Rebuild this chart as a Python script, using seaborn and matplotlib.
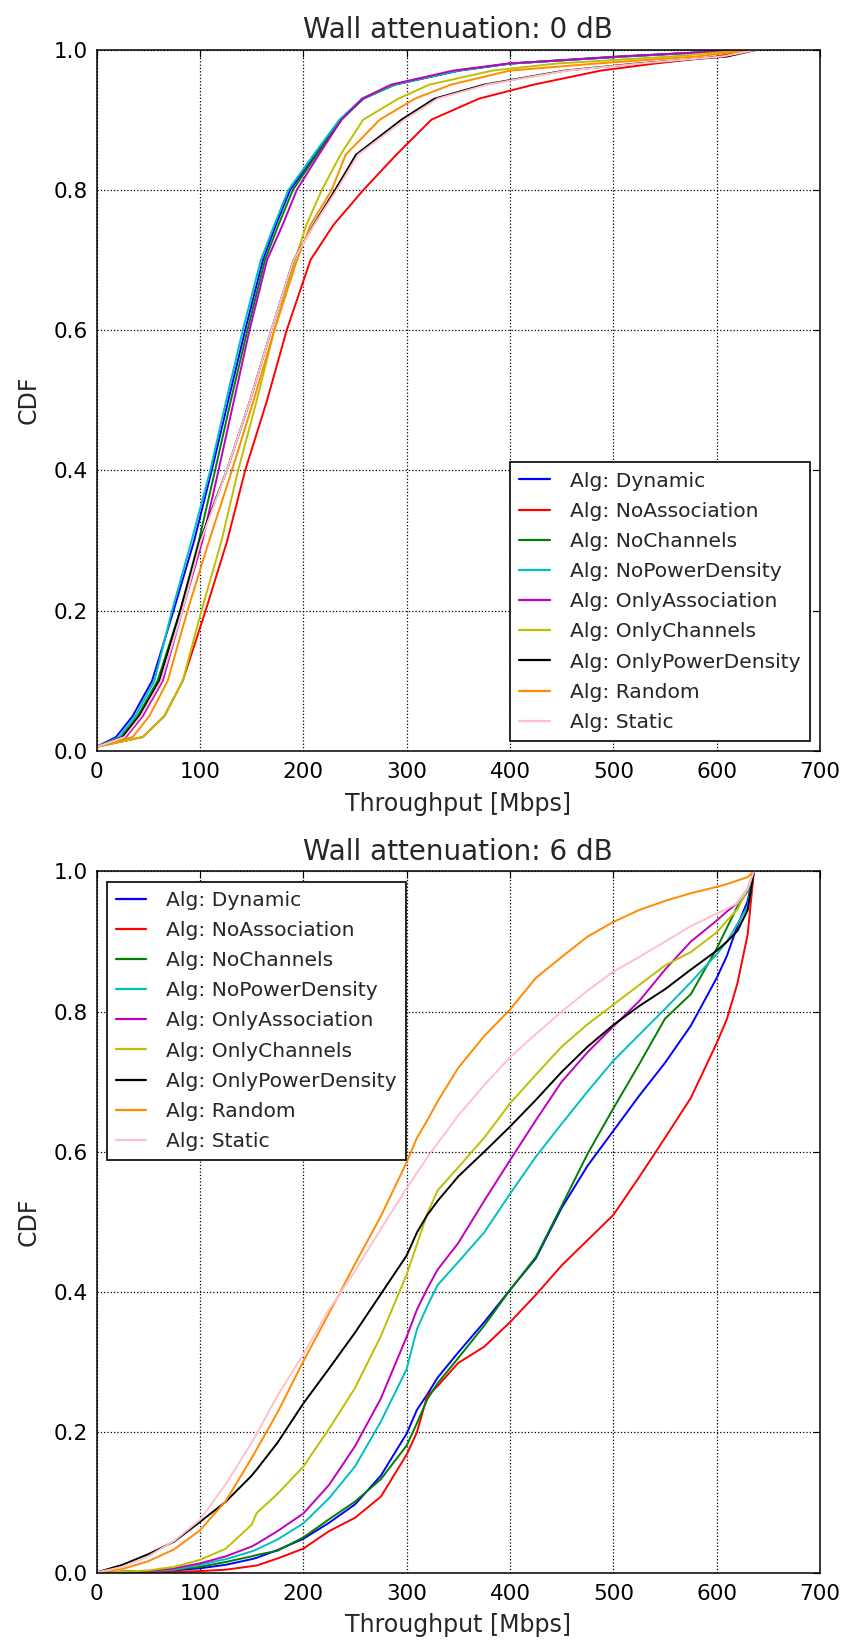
import numpy as np
import pandas as pd
import matplotlib
matplotlib.use("Agg")
import matplotlib.pyplot as plt
import seaborn as sns

# ---------------- data ----------------
algorithms = ["Dynamic", "NoAssociation", "NoChannels", "NoPowerDensity",
              "OnlyAssociation", "OnlyChannels", "OnlyPowerDensity", "Random", "Static"]
line_colors = ["#0000ff", "#ff0000", "#008000", "#00bfbf", "#bf00bf",
               "#bfbf00", "#000000", "#ff8c00", "#ffc0cb"]

# Panel 1 (wall attenuation 0 dB): throughput [Mbps] reached at these CDF levels
cdf_levels_0db = [0.006, 0.02, 0.05, 0.1, 0.2, 0.3, 0.4, 0.5, 0.6, 0.7, 0.75, 0.8,
                  0.85, 0.9, 0.93, 0.95, 0.97, 0.98, 0.99, 1.0]
thr0_dynamic = [0, 18.9, 35, 53.7, 74.5, 94.5, 111.5, 127.5, 143.8, 161, 173.5, 187.3,
                212, 236, 258, 288, 351, 400, 510, 635]
thr0_noassociation = [0, 44.7, 65.7, 83.4, 105.5, 126.5, 143.8, 165, 184, 207, 229.2, 258.3,
                      290, 324, 370, 423, 488, 540, 600, 635]
thr0_nochannels = [0, 24, 40, 59, 81, 99, 114.7, 130, 146, 163, 176, 190,
                   213, 237, 258, 289, 350, 400, 505, 635]
thr0_nopowerdensity = [0, 22, 37.6, 56, 73, 92, 110, 125.5, 141.5, 159, 172, 185.7,
                       210, 235, 257, 288, 350, 400, 510, 635]
thr0_onlyassociation = [0, 28.5, 44.7, 64, 83, 102.5, 118, 133, 148, 165, 180, 193.8,
                        215, 237, 257, 285, 345, 398, 505, 635]
thr0_onlychannels = [0, 44.7, 65.7, 83.4, 101.5, 121, 137, 155, 172, 192, 203, 218,
                     236, 258, 292, 322, 383, 445, 555, 635]
thr0_onlypowerdensity = [0, 25.3, 41.5, 60.8, 81, 100, 126, 148.6, 169, 190.6, 209.9, 230.9,
                         251, 295, 327, 375, 453, 522, 610, 640]
thr0_random = [0, 35, 51.1, 68.9, 88, 109, 131, 152, 172, 194, 207, 227.6,
               241, 274, 308, 343, 400, 483, 580, 638]
thr0_static = [0, 27, 43, 62.4, 83, 101, 126, 148.6, 169, 190.6, 210.5, 232.5,
               253, 298, 330, 378, 455, 525, 605, 640]

# Panel 2 (wall attenuation 6 dB): CDF value at these throughputs [Mbps]
thr_grid_6db = [0, 25, 50, 75, 100, 125, 150, 155, 175, 200, 225, 250, 275, 300, 310, 320,
                330, 350, 375, 400, 425, 450, 475, 500, 525, 550, 575, 600, 610, 620, 630, 636]
cdf6_dynamic = [0, 0.001, 0.002, 0.003, 0.006, 0.011, 0.019, 0.021, 0.032, 0.048, 0.071, 0.097,
                0.138, 0.198, 0.232, 0.254, 0.278, 0.314, 0.357, 0.403, 0.448, 0.52, 0.58,
                0.63, 0.68, 0.727, 0.78, 0.848, 0.88, 0.922, 0.958, 1.0]
cdf6_noassociation = [0, 0.0, 0.001, 0.001, 0.002, 0.004, 0.009, 0.01, 0.02, 0.034, 0.059, 0.078,
                      0.108, 0.168, 0.2, 0.252, 0.266, 0.299, 0.322, 0.357, 0.396, 0.438, 0.474,
                      0.51, 0.564, 0.62, 0.677, 0.755, 0.79, 0.84, 0.91, 1.0]
cdf6_nochannels = [0, 0.001, 0.002, 0.004, 0.008, 0.015, 0.023, 0.025, 0.031, 0.05, 0.076, 0.101,
                   0.133, 0.181, 0.213, 0.247, 0.27, 0.306, 0.352, 0.403, 0.45, 0.523, 0.597,
                   0.662, 0.725, 0.79, 0.825, 0.89, 0.92, 0.95, 0.972, 1.0]
cdf6_nopowerdensity = [0, 0.001, 0.002, 0.004, 0.011, 0.019, 0.03, 0.033, 0.047, 0.07, 0.106, 0.151,
                       0.215, 0.29, 0.347, 0.38, 0.41, 0.443, 0.485, 0.54, 0.593, 0.64, 0.686,
                       0.73, 0.767, 0.804, 0.842, 0.882, 0.9, 0.925, 0.95, 1.0]
cdf6_onlyassociation = [0, 0.001, 0.002, 0.006, 0.013, 0.023, 0.037, 0.041, 0.059, 0.084, 0.125, 0.18,
                        0.248, 0.336, 0.375, 0.405, 0.432, 0.47, 0.53, 0.588, 0.645, 0.7, 0.742,
                        0.779, 0.815, 0.86, 0.9, 0.93, 0.943, 0.955, 0.975, 1.0]
cdf6_onlychannels = [0, 0.001, 0.003, 0.008, 0.018, 0.034, 0.068, 0.085, 0.112, 0.151, 0.205, 0.263,
                     0.337, 0.425, 0.468, 0.512, 0.545, 0.578, 0.62, 0.669, 0.71, 0.75, 0.782,
                     0.81, 0.838, 0.866, 0.885, 0.913, 0.93, 0.946, 0.975, 1.0]
cdf6_onlypowerdensity = [0, 0.011, 0.026, 0.044, 0.072, 0.101, 0.138, 0.147, 0.185, 0.241, 0.291, 0.342,
                         0.397, 0.452, 0.485, 0.51, 0.53, 0.565, 0.6, 0.636, 0.674, 0.714, 0.75,
                         0.781, 0.808, 0.832, 0.86, 0.887, 0.9, 0.915, 0.945, 1.0]
cdf6_random = [0, 0.005, 0.016, 0.033, 0.06, 0.102, 0.163, 0.176, 0.228, 0.301, 0.37, 0.44,
               0.508, 0.585, 0.62, 0.645, 0.672, 0.72, 0.765, 0.803, 0.848, 0.878, 0.907,
               0.928, 0.945, 0.958, 0.969, 0.978, 0.982, 0.987, 0.992, 1.0]
cdf6_static = [0, 0.008, 0.023, 0.045, 0.075, 0.126, 0.185, 0.198, 0.252, 0.311, 0.375, 0.43,
               0.49, 0.548, 0.57, 0.592, 0.612, 0.652, 0.695, 0.735, 0.768, 0.8, 0.83,
               0.857, 0.878, 0.9, 0.922, 0.94, 0.947, 0.955, 0.975, 1.0]

x_ticks = [0, 100, 200, 300, 400, 500, 600, 700]
y_ticks = [0.0, 0.2, 0.4, 0.6, 0.8, 1.0]
titles = ["Wall attenuation: 0 dB", "Wall attenuation: 6 dB"]

# ---------------- long-form tables ----------------
thr0_series = [thr0_dynamic, thr0_noassociation, thr0_nochannels, thr0_nopowerdensity,
               thr0_onlyassociation, thr0_onlychannels, thr0_onlypowerdensity, thr0_random, thr0_static]
cdf6_series = [cdf6_dynamic, cdf6_noassociation, cdf6_nochannels, cdf6_nopowerdensity,
               cdf6_onlyassociation, cdf6_onlychannels, cdf6_onlypowerdensity, cdf6_random, cdf6_static]

rows0 = []
for alg, xs in zip(algorithms, thr0_series):
    for xv, yv in zip(xs, cdf_levels_0db):
        rows0.append({"alg": "Alg: " + alg, "thr": xv, "cdf": yv})
df0 = pd.DataFrame(rows0)

rows6 = []
for alg, ys in zip(algorithms, cdf6_series):
    for xv, yv in zip(thr_grid_6db, ys):
        rows6.append({"alg": "Alg: " + alg, "thr": xv, "cdf": yv})
df6 = pd.DataFrame(rows6)

labels = ["Alg: " + a for a in algorithms]
palette = dict(zip(labels, line_colors))

# ---------------- style ----------------
sns.set_style("white")
plt.rcParams["font.family"] = ["DejaVu Sans"]
plt.rcParams["xtick.direction"] = "in"
plt.rcParams["ytick.direction"] = "in"

fig = plt.figure(figsize=(8.46, 16.46), dpi=100)
fig.patch.set_facecolor("white")
ax_top = fig.add_axes([0.1141, 0.5437, 0.8552, 0.4262])
ax_bot = fig.add_axes([0.1141, 0.04465, 0.8552, 0.4259])

sns.lineplot(data=df0, x="thr", y="cdf", hue="alg", hue_order=labels, palette=palette,
             estimator=None, sort=False, linewidth=1.4, ax=ax_top)
sns.lineplot(data=df6, x="thr", y="cdf", hue="alg", hue_order=labels, palette=palette,
             estimator=None, sort=False, linewidth=1.4, ax=ax_bot)

for ax, title, loc in [(ax_top, titles[0], "lower right"), (ax_bot, titles[1], "upper left")]:
    ax.set_xlim(0, 700)
    ax.set_ylim(0, 1.0)
    ax.set_xticks(x_ticks)
    ax.set_yticks(y_ticks)
    ax.set_yticklabels(["%.1f" % v for v in y_ticks])
    ax.grid(True, color="black", linestyle=":", linewidth=0.9)
    ax.set_axisbelow(True)
    ax.tick_params(axis="both", which="major", direction="in", length=5, width=0.8,
                   top=True, right=True, labelsize=15.5, colors="black")
    ax.tick_params(axis="x", pad=8)
    ax.tick_params(axis="y", pad=6.5)
    for sp in ax.spines.values():
        sp.set_visible(True)
        sp.set_color("black")
        sp.set_linewidth(1.1)
    ax.set_xlabel("Throughput [Mbps]", fontsize=17, labelpad=7)
    ax.set_ylabel("CDF", fontsize=17, labelpad=9)
    ax.set_title(title, fontsize=20, pad=8)
    handles, lbls = ax.get_legend_handles_labels()
    leg = ax.legend(handles, lbls, loc=loc, fontsize=14.6, frameon=True, fancybox=False,
                    framealpha=1.0, edgecolor="black", handlelength=1.5, handletextpad=1.0,
                    labelspacing=0.55, borderpad=0.45, borderaxespad=0.5)
    leg.get_frame().set_linewidth(1.2)
    for ln in leg.get_lines():
        ln.set_linewidth(1.6)

fig.savefig("out.png", dpi=100, facecolor="white")
